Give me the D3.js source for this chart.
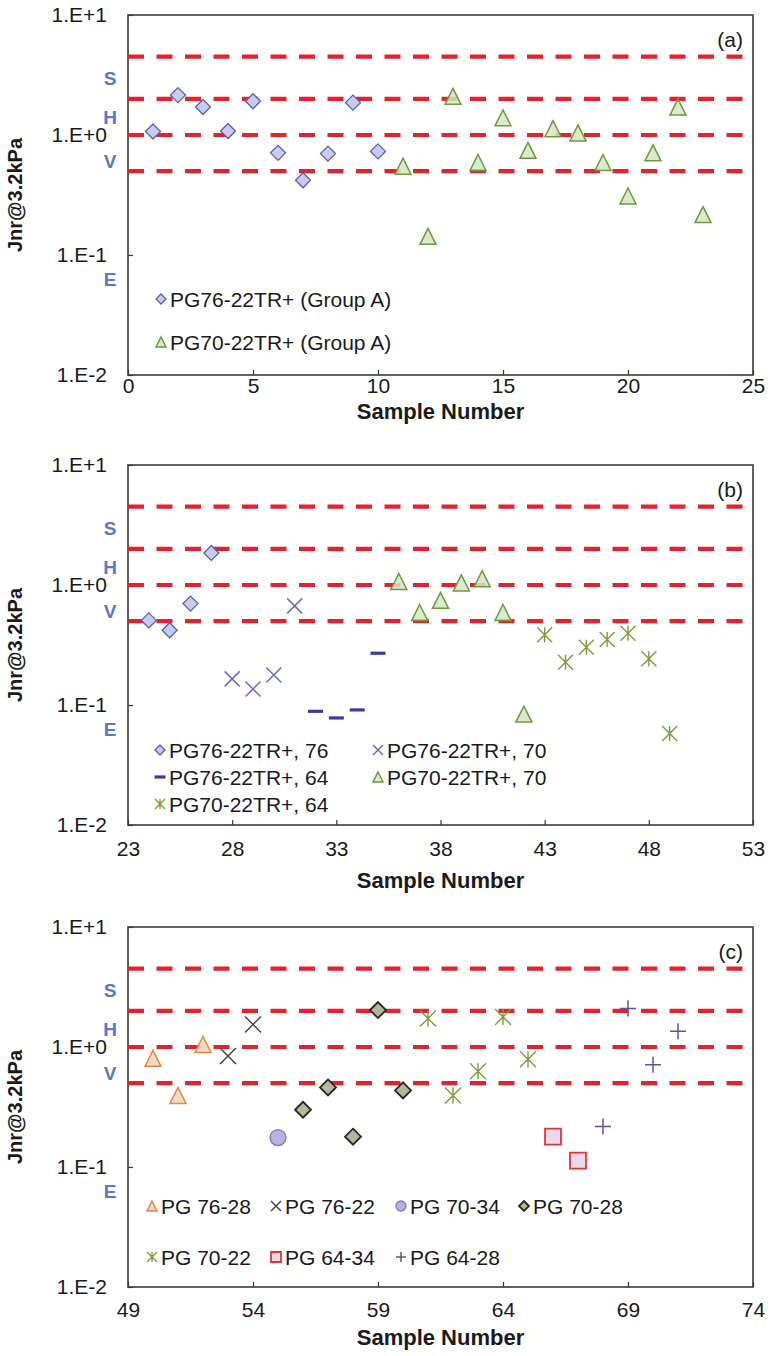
<!DOCTYPE html>
<html>
<head>
<meta charset="utf-8">
<script src="https://cdn.jsdelivr.net/npm/d3@7"></script>
<style>
  body { margin: 0; background: #fff; }
  text { font-family: Arial, "Liberation Sans", sans-serif; }
</style>
</head>
<body>
<svg id="chart" width="770" height="1356"></svg>
<script>
// jnr limits (red dashed lines) and traffic grade letters
var limitValues = [4.5, 2.0, 1.0, 0.5];
var gradeLetters = ["S", "H", "V", "E"];
var gradeLevels = [3.0, 1.4, 0.6, 0.063];
var yTickValues = [0.01, 0.1, 1, 10];

// panel (a)
var samplesA76 = [1, 2, 3, 4, 5, 6, 7, 8, 9, 10];
var jnrA76 = [1.07, 2.15, 1.71, 1.08, 1.91, 0.71, 0.42, 0.70, 1.86, 0.73];
var samplesA70 = [11, 12, 13, 14, 15, 16, 17, 18, 19, 20, 21, 22, 23];
var jnrA70 = [0.55, 0.143, 2.1, 0.59, 1.39, 0.745, 1.13, 1.04, 0.59, 0.31, 0.71, 1.71, 0.217];
var labelsA = ["PG76-22TR+ (Group A)", "PG70-22TR+ (Group A)"];
var xTicksA = [0, 5, 10, 15, 20, 25];

// panel (b)
var samplesB7676 = [24, 25, 26, 27];
var jnrB7676 = [0.507, 0.42, 0.70, 1.85];
var samplesB7670 = [28, 29, 30, 31];
var jnrB7670 = [0.165, 0.136, 0.178, 0.67];
var samplesB7664 = [32, 33, 34, 35];
var jnrB7664 = [0.0886, 0.078, 0.091, 0.27];
var samplesB7070 = [36, 37, 38, 39, 40, 41, 42];
var jnrB7070 = [1.07, 0.59, 0.745, 1.04, 1.13, 0.59, 0.084];
var samplesB7064 = [43, 44, 45, 46, 47, 48, 49];
var jnrB7064 = [0.385, 0.227, 0.303, 0.352, 0.397, 0.243, 0.058];
var labelsB = ["PG76-22TR+, 76", "PG76-22TR+, 70", "PG76-22TR+, 64", "PG70-22TR+, 70", "PG70-22TR+, 64"];
var xTicksB = [23, 28, 33, 38, 43, 48, 53];

// panel (c)
var samplesC7628 = [50, 51, 52];
var jnrC7628 = [0.805, 0.395, 1.05];
var samplesC7622 = [53, 54];
var jnrC7622 = [0.84, 1.54];
var samplesC7034 = [55];
var jnrC7034 = [0.176];
var samplesC7028 = [56, 57, 58, 59, 60];
var jnrC7028 = [0.30, 0.46, 0.179, 2.03, 0.435];
var samplesC7022 = [61, 62, 63, 64, 65];
var jnrC7022 = [1.73, 0.395, 0.627, 1.78, 0.79];
var samplesC6434 = [66, 67];
var jnrC6434 = [0.179, 0.113];
var samplesC6428 = [68, 69, 70, 71];
var jnrC6428 = [0.217, 2.09, 0.71, 1.35];
var labelsC = ["PG 76-28", "PG 76-22", "PG 70-34", "PG 70-28", "PG 70-22", "PG 64-34", "PG 64-28"];
var xTicksC = [49, 54, 59, 64, 69, 74];

// marker looks
var styles = {
  diamondBlue: { shape: "diamond", fill: "#c7ccef", stroke: "#5a5fae", sw: 1.3 },
  triGreen:    { shape: "triangle", fill: "#d2e6c4", stroke: "#6e9a3b", sw: 1.5, op: 0.85 },
  crossBlue:   { shape: "x", fill: "none", stroke: "#6c6cc4", sw: 1.5 },
  dashNavy:    { shape: "dash", fill: "none", stroke: "#3a3aa6", sw: 3.2 },
  starGreen:   { shape: "asterisk", fill: "none", stroke: "#7b9c3c", sw: 1.4 },
  triOrange:   { shape: "triangle", fill: "#f6d5c2", stroke: "#e0893f", sw: 1.5, op: 0.9 },
  crossGray:   { shape: "x", fill: "none", stroke: "#474747", sw: 1.5 },
  circPurple:  { shape: "circle", fill: "#b9b1e2", stroke: "#8474c2", sw: 1.3 },
  diamondOlive:{ shape: "diamond", fill: "#b2b99b", stroke: "#262626", sw: 1.8 },
  squareRed:   { shape: "square", fill: "#ead9ea", stroke: "#e0363a", sw: 1.8 },
  plusPurple:  { shape: "plus", fill: "none", stroke: "#5e50a8", sw: 1.5 }
};

var svg = d3.select("#chart");
var left = 128, plotW = 625, plotH = 360;

function markerPath(shape, s) {
  var h = s / 2;
  switch (shape) {
    case "diamond": return "M0," + (-h) + "L" + h + ",0L0," + h + "L" + (-h) + ",0Z";
    case "triangle": return "M0," + (-h) + "L" + h + "," + h + "L" + (-h) + "," + h + "Z";
    case "x": return "M" + (-h) + "," + (-h) + "L" + h + "," + h + "M" + (-h) + "," + h + "L" + h + "," + (-h);
    case "asterisk": return "M" + (-h) + "," + (-h) + "L" + h + "," + h + "M" + (-h) + "," + h + "L" + h + "," + (-h) + "M0," + (-h) + "L0," + h;
    case "plus": return "M" + (-h) + ",0L" + h + ",0M0," + (-h) + "L0," + h;
    case "dash": return "M" + (-h) + ",0L" + h + ",0";
    case "square": return "M" + (-h) + "," + (-h) + "h" + s + "v" + s + "h" + (-s) + "Z";
    case "circle": return "M" + (-h) + ",0a" + h + "," + h + " 0 1,0 " + s + ",0a" + h + "," + h + " 0 1,0 " + (-s) + ",0";
  }
}

function addMarker(g, st, cx, cy, s) {
  g.append("path")
    .attr("d", markerPath(st.shape, s))
    .attr("transform", "translate(" + cx + "," + cy + ")")
    .attr("fill", st.fill)
    .attr("fill-opacity", st.op || 1)
    .attr("stroke", st.stroke)
    .attr("stroke-width", st.sw);
}

// tickPad / titleOff differ a bit between the three pasted charts
function drawPanel(top, xDomain, xTicks, tag, tickPad, titleOff) {
  var g = svg.append("g").attr("transform", "translate(" + left + "," + top + ")");
  var x = d3.scaleLinear().domain(xDomain).range([0, plotW]);
  var y = d3.scaleLog().domain([0.01, 10]).range([plotH, 0]);

  //axes with inward ticks
  var yAxis = d3.axisLeft(y).tickValues(yTickValues).tickSizeInner(-5).tickSizeOuter(0).tickPadding(21)
    .tickFormat(function(d) {
      var e = Math.round(Math.log10(d));
      return "1.E" + (e < 0 ? "-" : "+") + Math.abs(e);
    });
  var xAxis = d3.axisBottom(x).tickValues(xTicks).tickSizeInner(-5).tickSizeOuter(0).tickPadding(tickPad);

  var ya = g.append("g").call(yAxis);
  var xa = g.append("g").attr("transform", "translate(0," + plotH + ")").call(xAxis);
  [ya, xa].forEach(function(a) {
    a.select(".domain").remove();
    a.selectAll("line").attr("stroke", "#333").attr("stroke-width", 1.2);
    a.selectAll("text").attr("font-size", 21).attr("fill", "#1a1a1a")
      .style("font-family", "Arial, 'Liberation Sans', sans-serif");
  });

  g.append("rect")
    .attr("width", plotW).attr("height", plotH)
    .attr("fill", "none").attr("stroke", "#3a3a3a").attr("stroke-width", 1.6);

  // limit lines
  g.selectAll(".limit").data(limitValues).enter().append("line")
    .attr("class", "limit")
    .attr("x1", 0).attr("x2", plotW - 10)
    .attr("y1", function(d) { return y(d); })
    .attr("y2", function(d) { return y(d); })
    .attr("stroke", "#e3222c").attr("stroke-width", 4.2)
    .attr("stroke-dasharray", "16,12.5");

  // grade letters
  g.selectAll(".grade").data(gradeLetters).enter().append("text")
    .attr("class", "grade")
    .attr("x", -18)
    .attr("y", function(d, i) { return y(gradeLevels[i]); })
    .attr("dy", "0.36em")
    .attr("text-anchor", "middle")
    .attr("font-size", 19).attr("font-weight", "bold")
    .attr("fill", "#5a79c9")
    .text(function(d) { return d; });

  g.append("text")
    .attr("x", plotW - 10).attr("y", 24).attr("dy", "0.36em")
    .attr("text-anchor", "end").attr("font-size", 21).attr("fill", "#1a1a1a")
    .text(tag);

  g.append("text")
    .attr("transform", "translate(" + (15 - left) + "," + (plotH / 2) + ") rotate(-90)")
    .attr("dy", "0.36em").attr("text-anchor", "middle")
    .attr("font-size", 20).attr("font-weight", "bold").attr("fill", "#1a1a1a")
    .text("Jnr@3.2kPa");

  g.append("text")
    .attr("x", plotW / 2).attr("y", plotH + titleOff).attr("dy", "0.36em")
    .attr("text-anchor", "middle").attr("font-size", 22).attr("font-weight", "bold").attr("fill", "#1a1a1a")
    .text("Sample Number");

  return { g: g, x: x, y: y };
}

function plotSeries(p, xs, ys, st, size) {
  xs.forEach(function(d, i) {
    addMarker(p.g, st, p.x(d), p.y(ys[i]), size);
  });
}

function legendItem(p, lx, ly, st, label) {
  addMarker(p.g, st, lx, ly, st.shape == "dash" ? 11 : 10);
  p.g.append("text")
    .attr("x", lx + 9).attr("y", ly).attr("dy", "0.36em")
    .attr("font-size", 21).attr("fill", "#1a1a1a")
    .text(label);
}

// (a)
var pa = drawPanel(15, [0, 25], xTicksA, "(a)", 3, 36);
plotSeries(pa, samplesA76, jnrA76, styles.diamondBlue, 15);
plotSeries(pa, samplesA70, jnrA70, styles.triGreen, 16);
legendItem(pa, 33, 284, styles.diamondBlue, labelsA[0]);
legendItem(pa, 33, 327, styles.triGreen, labelsA[1]);

// (b)
var pb = drawPanel(465, [23, 53], xTicksB, "(b)", 16, 55);
plotSeries(pb, samplesB7676, jnrB7676, styles.diamondBlue, 15);
plotSeries(pb, samplesB7670, jnrB7670, styles.crossBlue, 15);
plotSeries(pb, samplesB7664, jnrB7664, styles.dashNavy, 15);
plotSeries(pb, samplesB7070, jnrB7070, styles.triGreen, 16);
plotSeries(pb, samplesB7064, jnrB7064, styles.starGreen, 15);
legendItem(pb, 32, 285, styles.diamondBlue, labelsB[0]);
legendItem(pb, 250, 285, styles.crossBlue, labelsB[1]);
legendItem(pb, 32, 312, styles.dashNavy, labelsB[2]);
legendItem(pb, 250, 312, styles.triGreen, labelsB[3]);
legendItem(pb, 32, 339, styles.starGreen, labelsB[4]);

// (c)
var pc = drawPanel(927, [49, 74], xTicksC, "(c)", 15, 50);
plotSeries(pc, samplesC7628, jnrC7628, styles.triOrange, 16);
plotSeries(pc, samplesC7622, jnrC7622, styles.crossGray, 16);
plotSeries(pc, samplesC7034, jnrC7034, styles.circPurple, 16);
plotSeries(pc, samplesC7028, jnrC7028, styles.diamondOlive, 16);
plotSeries(pc, samplesC7022, jnrC7022, styles.starGreen, 16);
plotSeries(pc, samplesC6434, jnrC6434, styles.squareRed, 16);
plotSeries(pc, samplesC6428, jnrC6428, styles.plusPurple, 16);
legendItem(pc, 24, 279, styles.triOrange, labelsC[0]);
legendItem(pc, 148, 279, styles.crossGray, labelsC[1]);
legendItem(pc, 273, 279, styles.circPurple, labelsC[2]);
legendItem(pc, 396, 279, styles.diamondOlive, labelsC[3]);
legendItem(pc, 24, 330, styles.starGreen, labelsC[4]);
legendItem(pc, 148, 330, styles.squareRed, labelsC[5]);
legendItem(pc, 273, 330, styles.plusPurple, labelsC[6]);
</script>
</body>
</html>
